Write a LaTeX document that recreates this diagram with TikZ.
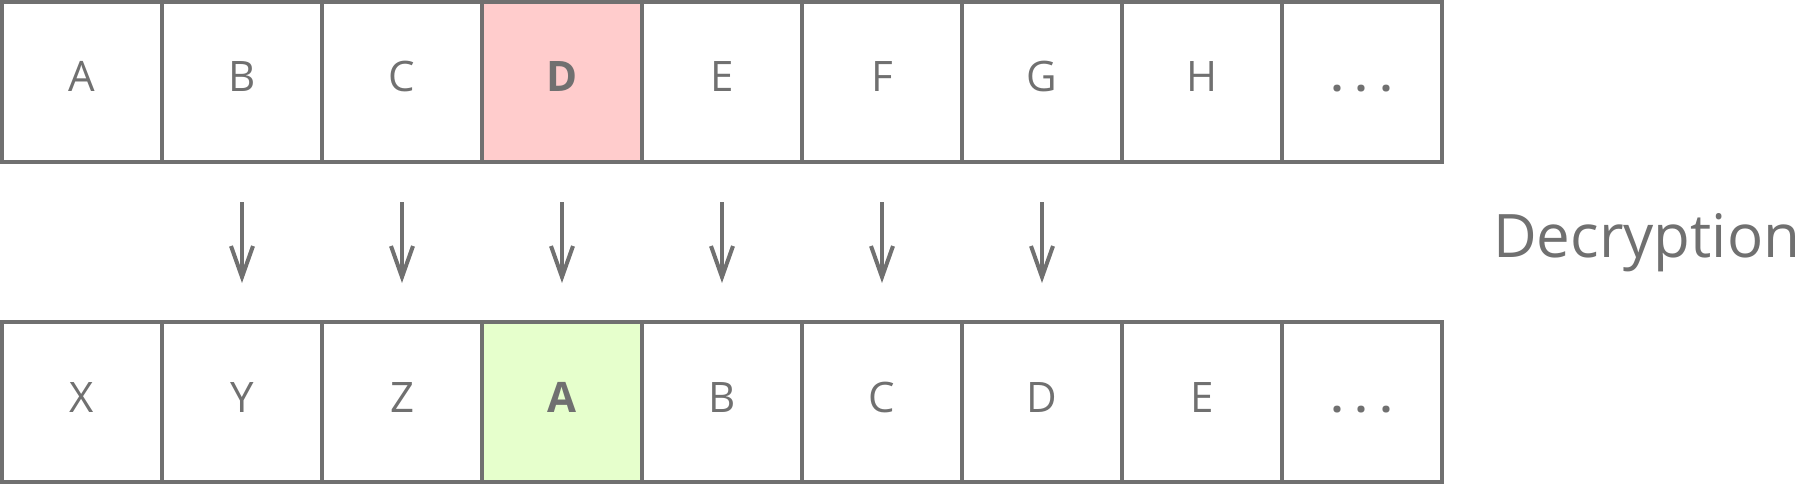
\documentclass[tikz,border=0pt]{standalone}
\usepackage{fontspec}
\setmainfont{Open Sans}
\usetikzlibrary{arrows.meta}
\definecolor{ink}{HTML}{707070}
\definecolor{pinkfill}{HTML}{FFCCCC}
\definecolor{greenfill}{HTML}{E6FFCC}
\tikzset{
  cell/.style={draw=ink, line width=4pt, minimum width=160pt, minimum height=160pt, inner sep=0pt, outer sep=0pt},
  lab/.style={text=ink, font=\fontsize{42}{50}\selectfont, anchor=base, inner sep=0pt},
  blab/.style={lab, font=\fontsize{42}{50}\selectfont\bfseries},
  arr/.style={draw=ink, line width=4pt, -{Straight Barb[length=31pt, width=22pt]}},
  title/.style={text=ink, font=\fontsize{60}{70}\selectfont, anchor=base west, inner sep=0pt}
}
\begin{document}
\begin{tikzpicture}[x=1pt,y=-1pt]
\useasboundingbox (0,0) rectangle (1816,484);
% top row
\foreach \i/\t in {0/A,1/B,2/C,4/E,5/F,6/G,7/H}{
  \node[cell] (t\i) at (82+160*\i,82) {};
  \node[lab] (tl\i) at (82+160*\i,92) {\t};
}
\node[cell, fill=pinkfill] (t3) at (562,82) {};
\node[blab] (tl3) at (562,92) {D};
\node[cell] (t8) at (1362,82) {};
\node[blab] (tl8) at (1362,92) {.\hspace{13pt}.\hspace{13pt}.};
% bottom row
\foreach \i/\t in {0/X,1/Y,2/Z,4/B,5/C,6/D,7/E}{
  \node[cell] (b\i) at (82+160*\i,402) {};
  \node[lab] (bl\i) at (82+160*\i,412) {\t};
}
\node[cell, fill=greenfill] (b3) at (562,402) {};
\node[blab] (bl3) at (562,412) {A};
\node[cell] (b8) at (1362,402) {};
\node[blab] (bl8) at (1362,412) {.\hspace{13pt}.\hspace{13pt}.};
% arrows
\foreach \i in {1,...,6}{
  \draw[arr] ([yshift=-40pt]t\i.south) -- ([yshift=39pt]b\i.north);
}
\node[title] (dec) at (1493,257) {Decryption};
\end{tikzpicture}
\end{document}
